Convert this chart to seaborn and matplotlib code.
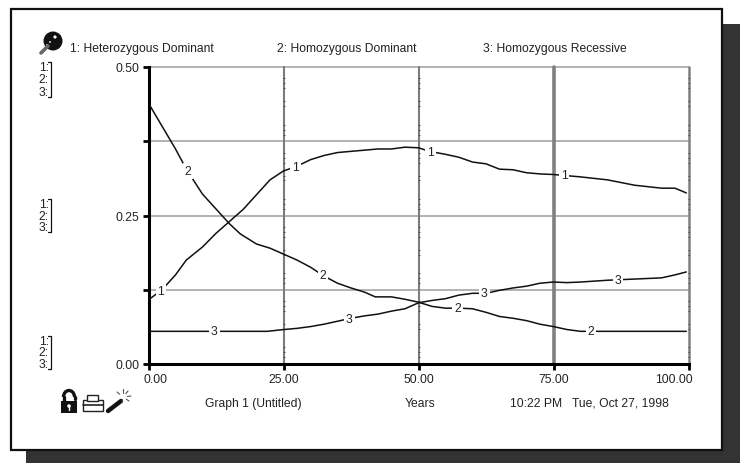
import numpy as np
import pandas as pd
import matplotlib
matplotlib.use("Agg")
import matplotlib.pyplot as plt
from matplotlib.patches import Rectangle, Ellipse, Arc
from matplotlib.lines import Line2D
from matplotlib.transforms import ScaledTranslation
import seaborn as sns

t1 = [0, 2.5, 5, 7, 10, 12.5, 15, 17.5, 20, 22.5, 25, 27.5, 30, 32.5, 35, 37.5, 40, 42.5, 45, 47.5, 50, 52, 55, 57.5, 60, 62.5, 65, 67.5, 70, 72.5, 75, 80, 85, 90, 95, 97.5, 99.6]
heterozygous = [.108, .125, .15, .175, .197, .22, .24, .26, .285, .31, .325, .333, .344, .351, .356, .358, .36, .362, .362, .365, .364, .358, .353, .348, .34, .337, .328, .327, .322, .32, .319, .315, .31, .301, .296, .296, .288]
t2 = [0, 5, 6.3, 8, 10, 12.5, 15, 17, 20, 22.5, 25, 27.5, 30, 32.5, 35, 37.5, 40, 42, 45, 47.5, 50, 52.5, 55, 57.5, 60, 62.5, 65, 67.5, 70, 72.5, 75, 77.5, 80, 90, 99.6]
hom_dominant = [.439, .362, .34, .314, .286, .261, .236, .219, .202, .195, .185, .175, .163, .148, .136, .128, .121, .113, .113, .109, .104, .097, .094, .094, .093, .087, .08, .077, .073, .067, .063, .058, .055, .055, .055]
t3 = [0, 10, 22, 25, 27.5, 30, 32.5, 35, 37.5, 40, 42.5, 45, 47.5, 50, 52.5, 55, 57.5, 60, 62.5, 65, 67.5, 70, 72.5, 75, 77.5, 80, 85, 90, 95, 97.5, 99.6]
hom_recessive = [.055, .055, .055, .058, .06, .063, .067, .072, .077, .081, .084, .089, .093, .103, .107, .11, .116, .119, .119, .124, .128, .131, .136, .138, .137, .138, .141, .143, .145, .15, .155]
label_t1 = [2.3, 27.2, 52.2, 77]
label_t2 = [7.3, 32.3, 57.2, 81.9]
label_t3 = [12.2, 37.2, 62.2, 87]
x_ticks = [0, 25, 50, 75, 100]
y_ticks = [0, .125, .25, .375, .5]
y_tick_labels = ["0.00", "", "0.25", "", "0.50"]
legend_names = ["1: Heterozygous Dominant", "2: Homozygous Dominant", "3: Homozygous Recessive"]
footer = ["Graph 1 (Untitled)", "Years", "10:22 PM   Tue, Oct 27, 1998"]
grid_marks = [.019, .0274, .036, .058, .066, .097, .1054, .114]

sns.set_theme(style="white")
plt.rcParams["font.family"] = ["Liberation Sans", "DejaVu Sans"]
W, H = 740, 464
FS = 8.7
fig = plt.figure(figsize=(W / 100, H / 100), dpi=100, facecolor="white")

def px(x, y):
    return x / W, 1 - y / H

ft = fig.transFigure
def frect(x0, y0, x1, y1, **k):
    fig.add_artist(Rectangle(px(x0, y1), (x1 - x0) / W, (y1 - y0) / H, transform=ft, **k))
def fline(xs, ys, **k):
    fig.add_artist(Line2D([x / W for x in xs], [1 - y / H for y in ys], transform=ft, **k))
def ftext(x, y, s, **k):
    k.setdefault("color", "#222222")
    k.setdefault("fontsize", FS)
    fig.text(x / W, 1 - y / H, s, va="center", **k)
def circ(x, y, r, **k):
    fig.add_artist(Ellipse(px(x, y), 2 * r / W, 2 * r / H, transform=ft, **k))

frect(26, 25, 740, 464, fc="#333333", ec="none", zorder=-3)
frect(11, 10, 722, 451, fc="white", ec="#111111", lw=1.6, zorder=-2)

ax = fig.add_axes([148.5 / W, 1 - 365 / H, 540 / W, 297 / H])
ax.patch.set_alpha(0)
frame = pd.concat([
    pd.DataFrame({"Years": t1, "value": heterozygous, "series": "1"}),
    pd.DataFrame({"Years": t2, "value": hom_dominant, "series": "2"}),
    pd.DataFrame({"Years": t3, "value": hom_recessive, "series": "3"}),
])
for v in y_ticks[1:]:
    ax.axhline(v, color="#b2b2b2", lw=1.4, zorder=1, clip_on=False)
for v, w, c in zip(x_ticks[1:], [1.5, 1.5, 2.6, 1.8], ["#7c7c7c", "#7c7c7c", "#808080", "#808080"]):
    ax.axvline(v, color=c, lw=w, zorder=1.2, clip_on=False)
marks = np.array([y - m for y in y_ticks[1:] for m in grid_marks])
for v in [25, 50, 100]:
    ax.plot(np.full(marks.size, v), marks, ls="none", marker="_", ms=1.6, mew=0.6, color="#444444", zorder=1.3)
sns.lineplot(data=frame, x="Years", y="value", units="series", estimator=None, color="#111111",
             lw=1.1, ax=ax, zorder=3, legend=False)

for ts, xs, ys, s in [(label_t1, t1, heterozygous, "1"), (label_t2, t2, hom_dominant, "2"), (label_t3, t3, hom_recessive, "3")]:
    for t in ts:
        ax.text(t, np.interp(t, xs, ys), s, ha="center", va="center", fontsize=FS, color="#222222", zorder=4,
                bbox=dict(fc="white", ec="none", pad=1.3))

ax.set_xlim(0, 100)
ax.set_ylim(0, .5)
ax.set_xticks(x_ticks)
ax.set_xticklabels([f"{v:.2f}" for v in x_ticks])
ax.set_yticks(y_ticks)
ax.set_yticklabels(y_tick_labels)
ax.set_xlabel("")
ax.set_ylabel("")
ax.tick_params(axis="both", direction="out", length=4.5, width=2, color="black", labelsize=FS,
               labelcolor="#222222", pad=2, bottom=True, left=True)
ax.tick_params(axis="x", length=4.5, pad=2)
for s in ["top", "right"]:
    ax.spines[s].set_visible(False)
for s in ["left", "bottom"]:
    ax.spines[s].set_linewidth(2.2)
    ax.spines[s].set_color("black")
labs = ax.get_xticklabels()
labs[0].set_transform(labs[0].get_transform() + ScaledTranslation(7.5 / 100, 0, fig.dpi_scale_trans))
labs[-1].set_transform(labs[-1].get_transform() + ScaledTranslation(-14.5 / 100, 0, fig.dpi_scale_trans))

for x, s in zip([70, 277, 483], legend_names):
    ftext(x, 49, s, ha="left")
ftext(253, 404, footer[0], ha="center")
ftext(420, 404, footer[1], ha="center")
ftext(510, 404, footer[2], ha="left")

for ys in [(68, 80, 93), (205, 217, 228), (342, 353, 365)]:
    for y, s in zip(ys, "123"):
        ftext(49, y, s + ":", ha="right")
    fline([48, 51, 51, 48], [ys[0] - 5, ys[0] - 5, ys[2] + 5, ys[2] + 5], color="#111111", lw=0.9)

# pin icon
fline([41, 48], [54, 47], color="#666666", lw=2.6)
circ(53, 42, 9.5, fc="#111111", ec="none")
circ(55, 38, 1.6, fc="white", ec="none")
circ(47, 46, 0.9, fc="white", ec="none")
circ(50, 43, 0.9, fc="white", ec="none")
# lock icon
fig.add_artist(Arc(px(69, 398), 11 / W, 13 / H, theta1=0, theta2=180, transform=ft, ec="#111111", lw=2.4))
fline([63.5, 63.5], [398, 405], color="#111111", lw=2.4)
fline([74.5, 74.5], [398, 400], color="#111111", lw=2.4)
frect(61, 402, 77, 414, fc="#111111", ec="none")
circ(69, 407, 1.8, fc="white", ec="none")
fline([69, 69], [407, 411], color="white", lw=1)
# printer icon
frect(83, 401, 103, 412, fc="white", ec="#222222", lw=1)
frect(87, 396, 98, 402, fc="white", ec="#222222", lw=1)
fline([83, 103], [406, 406], color="#222222", lw=1.2)
# wand icon
fline([108, 121], [412, 402], color="#111111", lw=3.2)
for dx, dy in [(0, -8), (5, -6), (8, -1), (6, 4), (-6, -5), (-1, 5)]:
    fline([123 + dx * .55, 123 + dx], [398 + dy * .55, 398 + dy], color="#555555", lw=0.8)

fig.savefig("out.png", dpi=100)
